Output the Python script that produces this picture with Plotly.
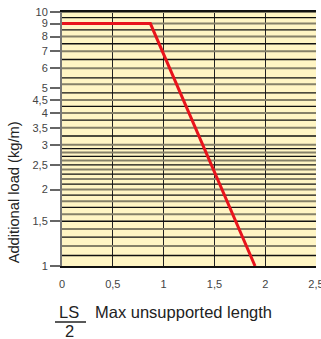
import plotly.graph_objects as go

# Data
curve_x = [0, 0.87, 1.9]
curve_y = [9, 9, 1]

x_tick_vals = [0, 0.5, 1, 1.5, 2, 2.5]
x_tick_text = ["0", "0,5", "1", "1,5", "2", "2,5"]
y_tick_vals = [1, 1.5, 2, 2.5, 3, 3.5, 4, 4.5, 5, 6, 7, 8, 9, 10]
y_tick_text = ["1", "1,5", "2", "2,5", "3", "3,5", "4", "4,5", "5", "6", "7", "8", "9", "10"]

grid_vals = [10, 9.5, 9, 8.5, 8, 7.5, 7, 6.5, 6, 5.5, 5.2, 4.8, 4.5, 4.25, 4,
             3.75, 3.5, 3.25, 3, 2.9, 2.8, 2.7, 2.6, 2.5, 2.4, 2.3, 2.2, 2.1,
             2, 1.9, 1.8, 1.7, 1.6, 1.5, 1.4, 1.3, 1.2, 1.1]

x_min, x_max = 0, 2.5

black_x, black_y, gray_x, gray_y = [], [], [], []
for i, v in enumerate(grid_vals):
    if i % 2 == 0:
        gray_x += [x_min, x_max, None]
        gray_y += [v, v, None]
    else:
        black_x += [x_min, x_max, None]
        black_y += [v, v, None]

fig = go.Figure()
fig.add_trace(go.Scatter(x=gray_x, y=gray_y, mode="lines",
                         line=dict(color="#858068", width=2), hoverinfo="skip", showlegend=False))
fig.add_trace(go.Scatter(x=black_x, y=black_y, mode="lines",
                         line=dict(color="#111111", width=1.3), hoverinfo="skip", showlegend=False))
fig.add_trace(go.Scatter(x=curve_x, y=curve_y, mode="lines",
                         line=dict(color="#e8141c", width=3), hoverinfo="skip", showlegend=False))

font = "Liberation Sans, Arial, sans-serif"

fig.update_layout(
    width=321, height=339,
    margin=dict(l=62, r=5, t=12, b=73, autoexpand=False),
    paper_bgcolor="white",
    plot_bgcolor="#fff5c4",
    font=dict(family=font, color="#333333"),
    xaxis=dict(range=[x_min, x_max], tickvals=x_tick_vals, ticktext=x_tick_text,
               showgrid=True, gridcolor="#222222", gridwidth=1.3,
               zeroline=False, showline=True, linecolor="#111111", linewidth=1.5,
               mirror=True, ticks="", ticklabelstandoff=7, ticklabeloverflow="allow",
               automargin=False,
               tickfont=dict(size=11, color="#444444")),
    yaxis=dict(type="log", range=[0, 1], tickvals=y_tick_vals, ticktext=y_tick_text,
               showgrid=False, zeroline=False, showline=True, linecolor="#777777",
               linewidth=2, ticks="outside", ticklen=10, tickcolor="#666666", tickwidth=1.5,
               ticklabeloverflow="allow", automargin=False,
               tickfont=dict(size=11, color="#444444")),
    annotations=[
        dict(text="Additional load (kg/m)", xref="paper", yref="paper", x=0, y=0.29,
             xshift=-48, textangle=-90, showarrow=False, xanchor="center", yanchor="middle",
             font=dict(size=14.7, color="#222222", family=font)),
        dict(text="LS", xref="paper", yref="paper", x=0.0256, y=-0.181, showarrow=False,
             xanchor="center", yanchor="middle", font=dict(size=16.5, color="#222222", family=font)),
        dict(text="2", xref="paper", yref="paper", x=0.0276, y=-0.257, showarrow=False,
             xanchor="center", yanchor="middle", font=dict(size=16.5, color="#222222", family=font)),
        dict(text="Max unsupported length", xref="paper", yref="paper", x=0.122, y=-0.181,
             showarrow=False, xanchor="left", yanchor="middle",
             font=dict(size=16.5, color="#222222", family=font)),
    ],
    shapes=[
        dict(type="line", xref="paper", yref="paper", x0=-0.0276, x1=0.0945, y0=-0.2205, y1=-0.2205,
             line=dict(color="#222222", width=1.5)),
    ],
)

fig.write_html(
    "out.html",
    config={"displayModeBar": False},
    post_script="document.body.style.margin='0px';document.body.style.overflow='hidden';",
)
